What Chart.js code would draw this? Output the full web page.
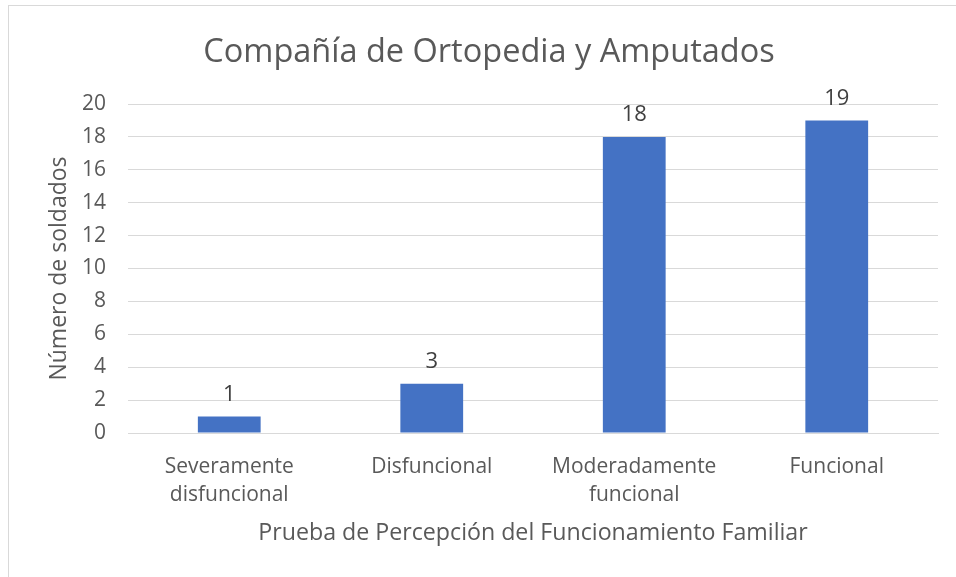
<!DOCTYPE html>
<html>
<head>
<meta charset="utf-8">
<script src="https://cdn.jsdelivr.net/npm/chart.js@4/dist/chart.umd.min.js"></script>
<style>
  html, body { margin: 0; padding: 0; background: #fff; }
  #wrap { position: relative; width: 956px; height: 577px; }
  #frame { position: absolute; left: 8px; top: 5px; right: 0; bottom: 0; border-top: 1px solid #d9d9d9; border-left: 1px solid #d9d9d9; pointer-events: none; }
  canvas { position: absolute; left: 0; top: 0; }
</style>
</head>
<body>
<div id="wrap">
  <canvas id="c" width="956" height="577"></canvas>
  <div id="frame"></div>
</div>
<script>
const chartTitle = 'Compañía de Ortopedia y Amputados';
const categories = [['Severamente', 'disfuncional'], 'Disfuncional', ['Moderadamente', 'funcional'], 'Funcional'];
const soldados = [1, 3, 18, 19];
const yTicks = [0, 2, 4, 6, 8, 10, 12, 14, 16, 18, 20];
const xTitle = 'Prueba de Percepción del Funcionamiento Familiar';
const yTitle = 'Número de soldados';

const FONT = "'Open Sans', 'Noto Sans', sans-serif";

const dataLabels = {
  id: 'dataLabels',
  afterDatasetsDraw(chart) {
    const ctx = chart.ctx;
    const meta = chart.getDatasetMeta(0);
    ctx.save();
    ctx.font = '22px ' + FONT;
    ctx.fillStyle = '#404040';
    ctx.textAlign = 'center';
    ctx.textBaseline = 'bottom';
    meta.data.forEach((bar, i) => {
      ctx.fillText(String(soldados[i]), bar.x, bar.y - 11);
    });
    ctx.restore();
  }
};

new Chart(document.getElementById('c'), {
  type: 'bar',
  data: {
    labels: categories,
    datasets: [{
      data: soldados,
      backgroundColor: '#4472C4',
      borderWidth: 0,
      barPercentage: 1,
      categoryPercentage: 0.31
    }]
  },
  options: {
    responsive: false,
    animation: false,
    devicePixelRatio: 1,
    layout: { padding: { left: 40, right: 18, top: 0, bottom: 0 } },
    plugins: {
      legend: { display: false },
      tooltip: { enabled: false },
      title: {
        display: true,
        text: chartTitle,
        color: '#595959',
        font: { family: FONT, size: 32.5, weight: 'normal', lineHeight: 1.2 },
        padding: { top: 33, bottom: 32 }
      }
    },
    scales: {
      x: {
        grid: { display: false, drawTicks: false },
        border: { display: true, color: '#d9d9d9' },
        ticks: { color: '#595959', font: { family: FONT, size: 21, lineHeight: 1.33 }, padding: 20, maxRotation: 0, autoSkip: false },
        title: { display: true, text: xTitle, color: '#595959', font: { family: FONT, size: 23.2, lineHeight: 1.2 }, padding: { top: 0, bottom: 30 } },
        afterFit(scale) { scale.height = 144; }
      },
      y: {
        min: 0, max: 20,
        afterBuildTicks(scale) { scale.ticks = yTicks.map(v => ({ value: v })); },
        grid: { color: '#d9d9d9', drawTicks: false },
        border: { display: false },
        ticks: { color: '#595959', font: { family: FONT, size: 21 }, padding: 22 },
        title: { display: true, text: yTitle, color: '#595959', font: { family: FONT, size: 23, lineHeight: 1.2 }, padding: { top: 6, bottom: 0 } },
        afterFit(scale) { scale.width = 88; }
      }
    }
  },
  plugins: [dataLabels]
});
</script>
</body>
</html>
